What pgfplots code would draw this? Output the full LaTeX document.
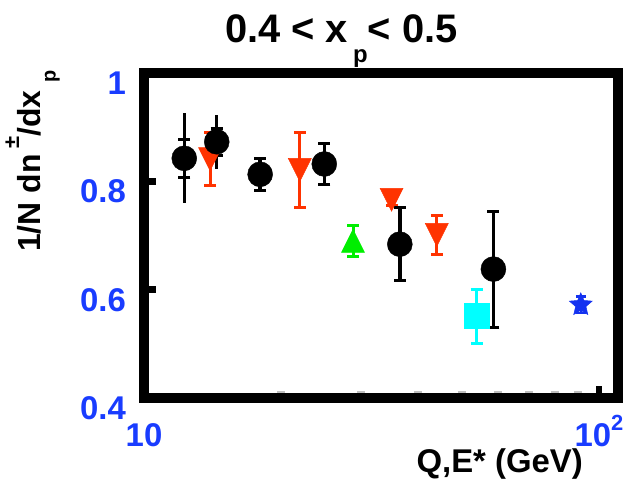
\documentclass[border=0pt]{standalone}
\usepackage{pgfplots}
\pgfplotsset{compat=1.18}
\usepackage{fontspec}
\setmainfont{Liberation Sans}
\usetikzlibrary{plotmarks}

\definecolor{tickblue}{RGB}{25,60,255}
\definecolor{rred}{RGB}{255,51,0}
\definecolor{rgreen}{RGB}{0,238,0}
\definecolor{rcyan}{RGB}{0,255,255}
\definecolor{rstar}{RGB}{20,50,240}

\newcommand{\bsz}[1]{\fontsize{#1}{#1}\selectfont\bfseries}

\pgfdeclareplotmark{dtri}{%
  \pgfpathmoveto{\pgfqpoint{-\pgfplotmarksize}{\pgfplotmarksize}}%
  \pgfpathlineto{\pgfqpoint{\pgfplotmarksize}{\pgfplotmarksize}}%
  \pgfpathlineto{\pgfqpoint{0pt}{-\pgfplotmarksize}}%
  \pgfpathclose\pgfusepathqfillstroke}
\pgfdeclareplotmark{utri}{%
  \pgfpathmoveto{\pgfqpoint{-\pgfplotmarksize}{-\pgfplotmarksize}}%
  \pgfpathlineto{\pgfqpoint{\pgfplotmarksize}{-\pgfplotmarksize}}%
  \pgfpathlineto{\pgfqpoint{0pt}{\pgfplotmarksize}}%
  \pgfpathclose\pgfusepathqfillstroke}
\pgfdeclareplotmark{fstar}{%
  \pgfpathmoveto{\pgfpointpolar{90}{\pgfplotmarksize}}%
  \pgfpathlineto{\pgfpointpolar{126}{0.45\pgfplotmarksize}}%
  \pgfpathlineto{\pgfpointpolar{162}{\pgfplotmarksize}}%
  \pgfpathlineto{\pgfpointpolar{198}{0.45\pgfplotmarksize}}%
  \pgfpathlineto{\pgfpointpolar{234}{\pgfplotmarksize}}%
  \pgfpathlineto{\pgfpointpolar{270}{0.45\pgfplotmarksize}}%
  \pgfpathlineto{\pgfpointpolar{306}{\pgfplotmarksize}}%
  \pgfpathlineto{\pgfpointpolar{342}{0.45\pgfplotmarksize}}%
  \pgfpathlineto{\pgfpointpolar{18}{\pgfplotmarksize}}%
  \pgfpathlineto{\pgfpointpolar{54}{0.45\pgfplotmarksize}}%
  \pgfpathclose\pgfusepathqfillstroke}

\begin{document}
\begin{tikzpicture}
\path[use as bounding box] (0bp,0bp) rectangle (625bp,489bp);
\begin{axis}[
  at={(144bp,91bp)}, anchor=south west,
  width=474bp, height=325bp, scale only axis,
  xmode=log, xmin=10, xmax=110.1, ymin=0.4, ymax=1,
  axis line style={line width=9.5bp, line join=miter},
  xtick={10,100},
  xticklabels={10,{10\raisebox{16bp}[0pt][0pt]{\bsz{22}2}}},
  minor xtick={20,30,40,50,60,70,80,90},
  ytick={0.4,0.6,0.8,1}, yticklabels={0.4,0.6,0.8,1},
  xtick pos=left, ytick pos=left, tick align=inside,
  major tick length=12bp, minor tick length=6.5bp,
  every major tick/.style={line width=6.5bp, black},
  every minor tick/.style={line width=8bp, black!25},
  xticklabel style={anchor=north, inner sep=0pt, yshift=-25bp, text=tickblue, font=\bsz{33}},
  yticklabel style={anchor=north east, inner sep=0pt, xshift=-18bp, yshift=1.5bp, text=tickblue, font=\bsz{33}},
  clip=false,
]
% green
\addplot[only marks, mark=utri, mark size=11.5bp, color=rgreen,
  mark options={fill=rgreen, draw=rgreen, line width=0.5bp},
  error bars/.cd, y dir=both, y explicit,
  error bar style={line width=3bp, rgreen},
  error mark options={rotate=90, mark size=6bp, line width=3bp, rgreen}]
  coordinates {(28.8,0.690) +- (0,0.028)};
% cyan
\addplot[only marks, mark=square*, mark size=12.5bp, color=rcyan,
  mark options={fill=rcyan, draw=rcyan, line width=0.5bp},
  error bars/.cd, y dir=both, y explicit,
  error bar style={line width=3bp, rcyan},
  error mark options={rotate=90, mark size=6bp, line width=3bp, rcyan}]
  coordinates {(53.8,0.551) +- (0,0.050)};
% blue star
\addplot[only marks, mark=fstar, mark size=12bp, color=rstar,
  mark options={fill=rstar, draw=rstar, line width=0.5bp},
  error bars/.cd, y dir=both, y explicit,
  error bar style={line width=2.5bp, rstar},
  error mark options={rotate=90, mark size=5bp, line width=2.5bp, rstar}]
  coordinates {(91.2,0.572) +- (0,0.015)};
% red
\addplot[only marks, mark=dtri, mark size=11.5bp, color=rred,
  mark options={fill=rred, draw=rred, line width=0.5bp},
  error bars/.cd, y dir=both, y explicit,
  error bar style={line width=3bp, rred},
  error mark options={rotate=90, mark size=6bp, line width=3bp, rred}]
  coordinates {
  (13.97,0.841) +- (0,0.049)
  (22.0,0.821) +- (0,0.069)
  (35.0,0.766) +- (0,0.010)
  (44.0,0.701) +- (0,0.036)
  };
% black outer (total) error bars
\addplot[only marks, mark=none, black,
  error bars/.cd, y dir=both, y explicit, error mark=none,
  error bar style={line width=3.5bp, black}]
  coordinates {
  (12.26,0.8425) +- (0,0.083)
  (14.45,0.873) +- (0,0.050)
  };
% black
\addplot[only marks, mark=*, mark size=12.5bp, black,
  mark options={fill=black, draw=black},
  error bars/.cd, y dir=both, y explicit,
  error bar style={line width=3.5bp, black},
  error mark options={rotate=90, mark size=6bp, line width=3bp, black}]
  coordinates {
  (12.26,0.8425) +- (0,0.035)
  (14.45,0.873) +- (0,0.025)
  (18.0,0.813) +- (0,0.030)
  (24.9,0.832) +- (0,0.038)
  (36.5,0.684) +- (0,0.067)
  (58.6,0.638) +- (0,0.107)
  };
\end{axis}
\node[anchor=base west, inner sep=0pt] at (225bp,446bp)
  {\bsz{40}0.4 < x\hspace{5bp}\raisebox{-20bp}{\bsz{24}p}< 0.5};
\node[rotate=90, anchor=base west, inner sep=0pt] at (40bp,237bp)
  {\bsz{32}1/N dn\hspace{6bp}\raisebox{21bp}{\bsz{22}±}/dx\hspace{8bp}\raisebox{-15.5bp}{\bsz{20}p}};
\node[anchor=base east, inner sep=0pt] at (583bp,17bp) {\bsz{33}Q,E* (GeV)};
\end{tikzpicture}
\end{document}
